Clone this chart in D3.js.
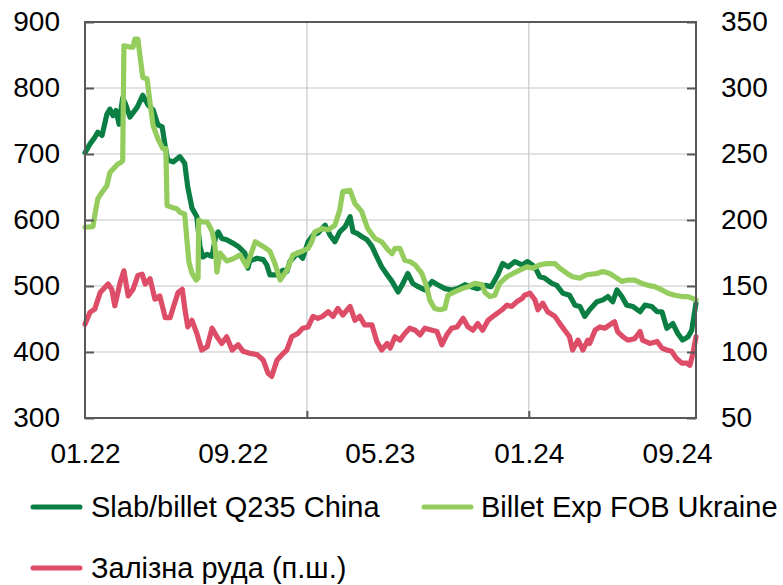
<!DOCTYPE html>
<html><head><meta charset="utf-8">
<script src="https://cdn.jsdelivr.net/npm/d3@7"></script>
<style>body{margin:0;background:#fff} text{font-family:"Liberation Sans",Arial,sans-serif;fill:#000}</style>
</head><body><svg id="c" width="783" height="585"></svg>
<script>
const xTickLabels = ["01.22","09.22","05.23","01.24","09.24"];
const xTickDates = ["2022-01-01","2022-09-01","2023-05-01","2024-01-01","2024-09-01"];
const xGridDates = ["2023-01-01","2024-01-01"];
const xDomain = ["2022-01-01","2024-10-02"];
const leftTicks = [300,400,500,600,700,800,900];
const rightTicks = [50,100,150,200,250,300,350];
const seriesNames = ["Slab/billet Q235 China","Billet Exp FOB Ukraine","Залізна руда (п.ш.)"];
const seriesColors = ["#0b7f43","#95cc5e","#de4d68"];

const slab = [["2022-01-01",702],["2022-01-09",715],["2022-01-17",725],["2022-01-22",733],["2022-01-29",728],["2022-02-06",760],["2022-02-11",768],["2022-02-16",758],["2022-02-21",766],["2022-02-26",745],["2022-03-04",785],["2022-03-09",775],["2022-03-16",756],["2022-03-28",771],["2022-04-06",789],["2022-04-15",774],["2022-04-23",767],["2022-05-01",744],["2022-05-08",741],["2022-05-13",711],["2022-05-17",691],["2022-05-26",688],["2022-06-06",696],["2022-06-14",686],["2022-06-19",650],["2022-06-26",618],["2022-07-04",605],["2022-07-09",560],["2022-07-14",544],["2022-07-21",548],["2022-07-29",545],["2022-08-04",575],["2022-08-08",582],["2022-08-14",572],["2022-08-22",570],["2022-09-01",565],["2022-09-10",560],["2022-09-21",550],["2022-09-26",527],["2022-09-29",538],["2022-10-11",542],["2022-10-21",540],["2022-10-27",532],["2022-11-01",517],["2022-11-13",517],["2022-11-23",524],["2022-11-29",522],["2022-12-04",537],["2022-12-17",550],["2022-12-25",542],["2023-01-03",567],["2023-01-11",577],["2023-01-19",580],["2023-01-31",592],["2023-02-08",577],["2023-02-16",567],["2023-02-24",582],["2023-03-05",590],["2023-03-13",605],["2023-03-18",582],["2023-03-24",580],["2023-04-01",575],["2023-04-10",570],["2023-04-18",560],["2023-04-26",544],["2023-05-04",529],["2023-05-13",517],["2023-05-21",507],["2023-05-31",491],["2023-06-08",504],["2023-06-16",519],["2023-06-24",504],["2023-07-03",499],["2023-07-14",494],["2023-07-26",507],["2023-08-04",502],["2023-08-16",496],["2023-08-27",494],["2023-09-06",496],["2023-09-18",502],["2023-09-28",499],["2023-10-09",496],["2023-10-21",501],["2023-10-31",499],["2023-11-11",517],["2023-11-19",534],["2023-11-28",529],["2023-12-09",537],["2023-12-21",532],["2023-12-30",537],["2024-01-11",529],["2024-01-19",514],["2024-01-27",512],["2024-02-08",504],["2024-02-16",501],["2024-02-26",489],["2024-03-08",486],["2024-03-17",471],["2024-03-25",469],["2024-04-02",454],["2024-04-10",464],["2024-04-22",476],["2024-05-02",479],["2024-05-10",484],["2024-05-18",476],["2024-05-25",494],["2024-06-02",484],["2024-06-10",471],["2024-06-20",469],["2024-07-02",461],["2024-07-10",471],["2024-07-21",469],["2024-07-30",461],["2024-08-07",461],["2024-08-15",436],["2024-08-25",443],["2024-09-02",428],["2024-09-10",418],["2024-09-19",423],["2024-09-25",433],["2024-10-02",474]];

const billet = [["2022-01-01",589],["2022-01-14",590],["2022-01-17",607],["2022-01-22",632],["2022-01-29",642],["2022-02-06",652],["2022-02-11",672],["2022-02-16",677],["2022-02-24",685],["2022-03-01",687],["2022-03-04",690],["2022-03-06",864],["2022-03-16",862],["2022-03-21",862],["2022-03-24",874],["2022-03-29",874],["2022-04-01",852],["2022-04-06",816],["2022-04-13",814],["2022-04-18",778],["2022-04-23",743],["2022-05-01",723],["2022-05-09",708],["2022-05-14",708],["2022-05-16",622],["2022-05-24",619],["2022-06-01",617],["2022-06-06",612],["2022-06-14",609],["2022-06-18",566],["2022-06-21",536],["2022-06-26",519],["2022-07-03",509],["2022-07-06",512],["2022-07-07",600],["2022-07-12",597],["2022-07-21",597],["2022-07-29",583],["2022-08-03",560],["2022-08-06",521],["2022-08-11",550],["2022-08-22",538],["2022-09-01",541],["2022-09-13",547],["2022-09-24",530],["2022-10-08",567],["2022-10-21",560],["2022-11-01",553],["2022-11-09",535],["2022-11-18",509],["2022-11-29",524],["2022-12-09",547],["2022-12-17",550],["2022-12-25",553],["2023-01-03",557],["2023-01-09",567],["2023-01-14",582],["2023-01-26",587],["2023-02-05",585],["2023-02-16",592],["2023-02-24",615],["2023-03-01",643],["2023-03-13",645],["2023-03-21",625],["2023-04-01",613],["2023-04-11",587],["2023-04-23",572],["2023-05-04",567],["2023-05-14",555],["2023-05-21",549],["2023-05-26",557],["2023-06-03",557],["2023-06-11",539],["2023-06-19",537],["2023-06-28",532],["2023-07-09",519],["2023-07-17",499],["2023-07-22",479],["2023-07-30",466],["2023-08-08",464],["2023-08-16",466],["2023-08-21",486],["2023-09-01",491],["2023-09-13",496],["2023-09-23",499],["2023-10-04",504],["2023-10-16",502],["2023-10-21",490],["2023-10-29",484],["2023-11-06",486],["2023-11-14",504],["2023-11-26",514],["2023-12-06",519],["2023-12-17",524],["2023-12-29",529],["2024-01-08",527],["2024-01-19",532],["2024-01-31",534],["2024-02-13",534],["2024-02-21",527],["2024-03-04",519],["2024-03-13",514],["2024-03-25",512],["2024-04-05",517],["2024-04-22",519],["2024-05-02",522],["2024-05-13",519],["2024-05-25",512],["2024-06-02",507],["2024-06-12",509],["2024-06-23",509],["2024-07-05",504],["2024-07-15",501],["2024-07-26",499],["2024-08-07",494],["2024-08-17",489],["2024-08-28",486],["2024-09-09",484],["2024-09-19",484],["2024-09-27",481],["2024-10-02",479]];

const ore = [["2022-01-01",121],["2022-01-09",130],["2022-01-17",132.5],["2022-01-26",145],["2022-01-31",147.5],["2022-02-08",151.5],["2022-02-14",147.5],["2022-02-19",135],["2022-02-28",153],["2022-03-06",161.5],["2022-03-13",142.5],["2022-03-21",147.5],["2022-03-29",158],["2022-04-05",159],["2022-04-10",151.5],["2022-04-18",155.5],["2022-04-26",140],["2022-05-04",142.5],["2022-05-13",126],["2022-05-21",126],["2022-05-26",133.5],["2022-06-03",145],["2022-06-10",147.5],["2022-06-14",133.5],["2022-06-19",119],["2022-06-26",124],["2022-07-04",114],["2022-07-12",101.5],["2022-07-21",104],["2022-07-29",118],["2022-08-06",111.5],["2022-08-14",106.5],["2022-08-22",111.5],["2022-08-31",101.5],["2022-09-10",105.5],["2022-09-18",100.5],["2022-09-29",99],["2022-10-11",98],["2022-10-21",94],["2022-10-29",84],["2022-11-04",81.5],["2022-11-13",94],["2022-11-21",98],["2022-11-29",101.5],["2022-12-07",111.5],["2022-12-17",114],["2022-12-25",118],["2023-01-03",119],["2023-01-11",127],["2023-01-19",125.5],["2023-01-27",127],["2023-02-05",130.5],["2023-02-13",127],["2023-02-21",133],["2023-03-01",128],["2023-03-13",134.5],["2023-03-21",124],["2023-03-29",127],["2023-04-06",120.5],["2023-04-18",120.5],["2023-04-26",108],["2023-05-04",101.5],["2023-05-13",106.5],["2023-05-18",103],["2023-05-26",111.5],["2023-06-03",109],["2023-06-11",114],["2023-06-19",118],["2023-06-28",116.5],["2023-07-06",113],["2023-07-14",118],["2023-07-26",116.5],["2023-08-03",115.5],["2023-08-11",105.5],["2023-08-19",113],["2023-08-27",118],["2023-09-05",119],["2023-09-15",125.5],["2023-09-23",119],["2023-10-01",116.5],["2023-10-09",121.5],["2023-10-17",116.5],["2023-10-26",124],["2023-11-06",128],["2023-11-18",132],["2023-11-26",135.5],["2023-12-04",134.5],["2023-12-12",138],["2023-12-21",140.5],["2023-12-25",143],["2024-01-03",144.5],["2024-01-11",139.5],["2024-01-16",132],["2024-01-24",137],["2024-02-01",130.5],["2024-02-13",127],["2024-02-21",121.5],["2024-02-29",116.5],["2024-03-08",111.5],["2024-03-13",101.5],["2024-03-22",109],["2024-03-30",101.5],["2024-04-07",109],["2024-04-10",106.5],["2024-04-19",116.5],["2024-04-27",119],["2024-05-05",118],["2024-05-13",120.5],["2024-05-21",123],["2024-05-26",115.5],["2024-06-04",111.5],["2024-06-12",109],["2024-06-23",110],["2024-07-02",115.5],["2024-07-06",109],["2024-07-18",106.5],["2024-07-30",108],["2024-08-07",103],["2024-08-15",101.5],["2024-08-23",100.5],["2024-08-31",95],["2024-09-09",91.5],["2024-09-17",91.5],["2024-09-22",90],["2024-09-27",99],["2024-10-02",111.5]];

const parse = d3.timeParse("%Y-%m-%d");
const L = 85, R = 696, T = 22, B = 418;
const svg = d3.select("#c");

const x = d3.scaleTime().domain(xDomain.map(parse)).range([L, R]);
const yL = d3.scaleLinear().domain([300, 900]).range([B, T]);
const yR = d3.scaleLinear().domain([50, 350]).range([B, T]);

// horizontal gridlines
svg.append("g").selectAll("line").data(leftTicks.slice(1, -1)).join("line")
  .attr("x1", L).attr("x2", R).attr("y1", d => yL(d)).attr("y2", d => yL(d))
  .attr("stroke", "#d9d9d9").attr("stroke-width", 1.3);
// vertical gridlines
svg.append("g").selectAll("line").data(xGridDates.map(parse)).join("line")
  .attr("x1", d => x(d)).attr("x2", d => x(d)).attr("y1", T).attr("y2", B)
  .attr("stroke", "#c8cdd2").attr("stroke-width", 1.3);

// lines
const lineL = d3.line().x(d => x(parse(d[0]))).y(d => yL(d[1]));
const lineR = d3.line().x(d => x(parse(d[0]))).y(d => yR(d[1]));
const series = [[slab, lineL], [billet, lineL], [ore, lineR]];
series.forEach(([data, gen], i) => {
  svg.append("path").datum(data).attr("d", gen)
    .attr("fill", "none").attr("stroke", seriesColors[i])
    .attr("stroke-width", 5.2).attr("stroke-linejoin", "round").attr("stroke-linecap", "round");
});

// frame
svg.append("rect").attr("x", L).attr("y", T).attr("width", R - L).attr("height", B - T)
  .attr("fill", "none").attr("stroke", "#595959").attr("stroke-width", 2);

// axes
const fs = "28px";
const gl = svg.append("g").attr("transform", `translate(${L},0)`)
  .call(d3.axisLeft(yL).tickValues(leftTicks).tickSize(-9).tickPadding(25));
const gr = svg.append("g").attr("transform", `translate(${R},0)`)
  .call(d3.axisRight(yR).tickValues(rightTicks).tickSize(-9).tickPadding(25));
const gb = svg.append("g").attr("transform", `translate(0,${B})`)
  .call(d3.axisBottom(x).tickValues(xTickDates.map(parse)).tickSize(0).tickPadding(25)
    .tickFormat((d, i) => xTickLabels[i]));
const gt = svg.append("g").attr("transform", `translate(0,${B})`)
  .call(d3.axisBottom(x).tickValues(xGridDates.map(parse)).tickSize(-7).tickFormat(""));
[gl, gr, gb, gt].forEach(g => {
  g.select(".domain").remove();
  g.selectAll(".tick line").attr("stroke", "#595959").attr("stroke-width", 2);
  g.selectAll("text").attr("font-size", fs).attr("font-family", '"Liberation Sans", Arial, sans-serif').attr("fill", "#000");
});

// legend
const legendPos = [[33, 507], [424, 507], [33, 568]];
seriesNames.forEach((name, i) => {
  const [lx, ly] = legendPos[i];
  svg.append("line").attr("x1", lx).attr("x2", lx + 47).attr("y1", ly).attr("y2", ly)
    .attr("stroke", seriesColors[i]).attr("stroke-width", 5).attr("stroke-linecap", "round");
  svg.append("text").attr("x", lx + 58 - (i === 1 ? 1 : 0)).attr("y", ly).attr("dy", "0.35em")
    .attr("font-size", "29px").text(name);
});
</script></body></html>
